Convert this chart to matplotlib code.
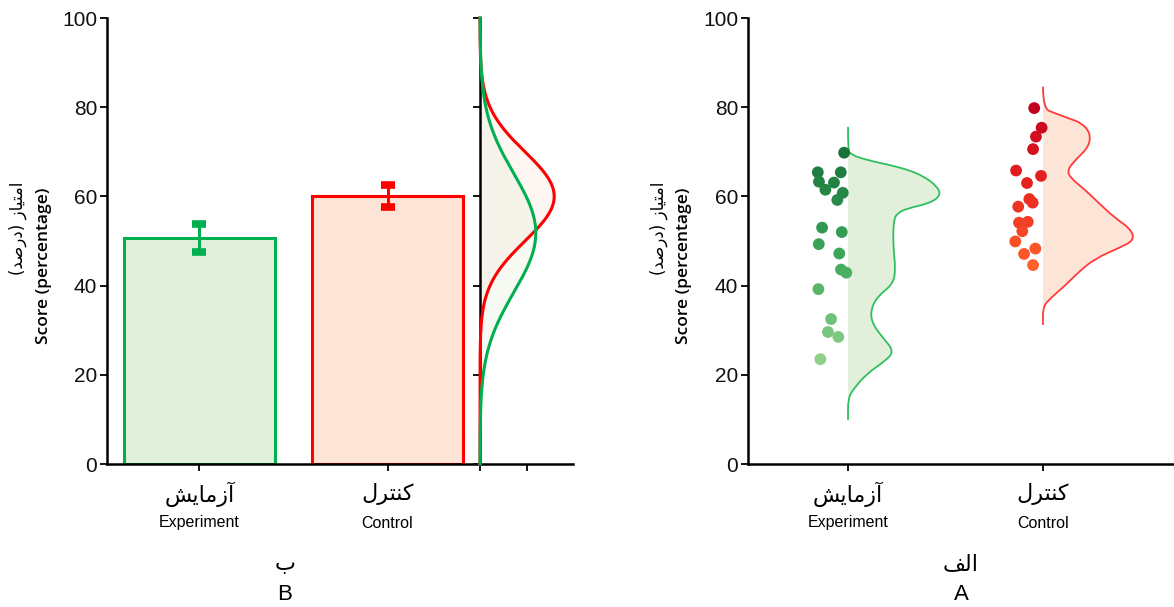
import numpy as np
import matplotlib.pyplot as plt
from matplotlib.colors import LinearSegmentedColormap, Normalize
from matplotlib.transforms import blended_transform_factory
from matplotlib.path import Path
from matplotlib.patches import PathPatch

plt.rcParams['font.family'] = ['Liberation Sans', 'DejaVu Sans']

# ---- data ----
# Persian strings are given in display order with Arabic presentation forms
groups_fa = ['\uFEB6\uFBFE\uFE8E\uFEE3\uFEAF\uFE81',   # Azmayesh
             '\uFEDD\uFEAE\uFE98\uFEE8\uFB90']         # Kontrol
groups_en = ['Experiment', 'Control']
ylabel_fa = '(\uFEAA\uFEBB\uFEAD\uFEA9) \uFEAF\uFE8E\uFBFF\uFE98\uFEE3\uFE8D'
ylabel_en = 'Score (percentage)'
panel_fa = ['\uFE8F', '\uFED2\uFEDF\uFE8D']
panel_en = ['B', 'A']

# panel B: mean +/- error, and the normal curves beside it
bar_means = [50.6, 60.1]
bar_err = [3.1, 2.5]
norm_mean = [51.8, 60.0]
norm_sd = [13.3, 10.0]

# panel A: individual scores and their horizontal jitter (category units)
exp_scores = [69.8, 65.4, 65.4, 63.3, 63.1, 61.5, 60.8, 59.2, 53.0, 52.0,
              49.3, 47.2, 43.6, 42.9, 39.2, 32.5, 29.6, 28.5, 23.5]
exp_jitter = [-0.020, -0.155, -0.037, -0.149, -0.072, -0.116, -0.027, -0.055, -0.133, -0.032,
              -0.150, -0.045, -0.036, -0.009, -0.152, -0.087, -0.103, -0.050, -0.142]
ctrl_scores = [79.8, 75.4, 73.4, 70.6, 65.8, 64.6, 63.0, 59.4, 58.6, 57.7,
               54.1, 54.3, 52.2, 49.9, 48.3, 47.1, 44.6]
ctrl_jitter = [-0.045, -0.007, -0.036, -0.051, -0.138, -0.010, -0.082, -0.070, -0.053, -0.127,
               -0.123, -0.078, -0.106, -0.142, -0.039, -0.097, -0.051]

# half-violin outlines (score, density in arbitrary units)
exp_violin_y = [75.6, 70.0, 69.7, 68.9, 67.8, 67.0, 65.9, 64.5, 62.3, 60.3, 58.5, 57.3,
                56.2, 54.7, 51.0, 47.5, 44.2, 40.5, 37.5, 34.5, 31.5, 28.5, 25.2, 22.9,
                20.3, 17.0, 14.7, 9.9]
exp_violin_w = [0, 0, 2.7, 7.7, 26, 42.7, 61, 76, 89.3, 93.3, 82.7, 59.3,
                49.3, 46, 45.3, 46, 47.5, 46, 29.3, 22.7, 24.3, 34.3, 46.7, 36,
                19.3, 6, 0, 0]
ctrl_violin_y = [84.6, 79.7, 78.6, 77.5, 76.4, 74.1, 71.1, 68.2, 65.9, 64.1, 61.4, 58.5,
                 55.1, 52.8, 50.2, 48.4, 46.1, 43.1, 40.1, 37.2, 35.3, 31.2]
ctrl_violin_w = [0, 0, 12.7, 26, 39.3, 47.7, 46, 32.7, 24.3, 27.7, 42.7, 56,
                 72.7, 87.7, 92, 76, 52.7, 36, 22.7, 7.7, 0, 0]

fills = ['#e2efda', '#fce4d6']
edges = ['#00b050', '#ff0000']
violin_lines = ['#2fbf5f', '#ff3b3b']
cmaps = [LinearSegmentedColormap.from_list('g', ['#8fd18b', '#3ea85a', '#17733a']),
         LinearSegmentedColormap.from_list('r', ['#ff602c', '#e8231f', '#c4001f'])]

W, H = 1174, 607
fig = plt.figure(figsize=(W / 100, H / 100), dpi=100)


def fx(px):
    return px / W


def fy(px):
    return 1 - px / H


def smooth_path(xs, ys, base=None):
    # quadratic bezier through the midpoints, read points act as control points
    verts = [(xs[0], ys[0])]
    codes = [Path.MOVETO]
    for k in range(1, len(xs) - 1):
        verts += [(xs[k], ys[k]), ((xs[k] + xs[k + 1]) / 2, (ys[k] + ys[k + 1]) / 2)]
        codes += [Path.CURVE3, Path.CURVE3]
    verts.append((xs[-1], ys[-1]))
    codes.append(Path.LINETO)
    if base is not None:
        verts += [(base, ys[-1]), (base, ys[0]), (xs[0], ys[0])]
        codes += [Path.LINETO, Path.LINETO, Path.CLOSEPOLY]
    return Path(verts, codes)


bottom, height = fy(464), 446 / H
ax_bar = fig.add_axes([fx(107), bottom, fx(373), height])
ax_den = fig.add_axes([fx(480), bottom, fx(93), height])
ax_r = fig.add_axes([fx(748), bottom, fx(W - 748), height])

for ax in (ax_bar, ax_den, ax_r):
    for s in ('top', 'right'):
        ax.spines[s].set_visible(False)
    for s in ('left', 'bottom'):
        ax.spines[s].set_linewidth(1.8)
    ax.tick_params(direction='out', length=5, width=1.4, labelsize=15, pad=2, colors='#111111')
    ax.set_ylim(0, 100)
    ax.set_yticks(range(0, 101, 20))

# ---- panel B ----
x = np.arange(2)
ax_bar.bar(x, bar_means, width=0.8, color=fills, edgecolor=edges, linewidth=2.2, zorder=2)
for i in x:
    ax_bar.errorbar(i, bar_means[i], yerr=bar_err[i], color=edges[i], elinewidth=2.2,
                    capsize=5, capthick=5.5, zorder=3)
ax_bar.set_xlim(-0.492, 1.492)
ax_bar.set_xticks(x)
ax_bar.set_xticklabels([])

yy = np.linspace(0, 100, 500)
for i in (1, 0):
    pdf = np.exp(-0.5 * ((yy - norm_mean[i]) / norm_sd[i]) ** 2) / (norm_sd[i] * np.sqrt(2 * np.pi))
    ax_den.fill_betweenx(yy, 0, pdf, color=fills[i], alpha=0.3, lw=0, zorder=1)
    ax_den.plot(pdf, yy, color=edges[i], lw=2.2, clip_on=False, zorder=3)
ax_den.set_xlim(0, 0.05)
ax_den.set_xticks([0, 0.025])
ax_den.set_xticklabels([])
ax_den.set_yticklabels([])

# ---- panel A ----
vscale = 0.475 / 93
groups = [(exp_scores, exp_jitter, exp_violin_y, exp_violin_w),
          (ctrl_scores, ctrl_jitter, ctrl_violin_y, ctrl_violin_w)]
for i, (scores, jit, vy, vw) in enumerate(groups):
    xs = i + np.array(vw) * vscale
    ax_r.add_patch(PathPatch(smooth_path(xs, vy, base=i), facecolor=fills[i],
                             edgecolor='none', zorder=1))
    ax_r.add_patch(PathPatch(smooth_path(xs, vy), facecolor='none',
                             edgecolor=violin_lines[i], lw=1.3, zorder=2))
    ax_r.scatter(i + np.array(jit), scores, c=scores, cmap=cmaps[i],
                 norm=Normalize(min(scores), max(scores)), s=72, edgecolors='none', zorder=3)
ax_r.set_xlim(-0.513, 1.672)
ax_r.set_xticks(x)
ax_r.set_xticklabels([])

# ---- texts ----
for ax in (ax_bar, ax_r):
    tr = blended_transform_factory(ax.transData, fig.transFigure)
    for i in range(2):
        ax.text(i, fy(494), groups_fa[i], transform=tr, ha='center', va='center',
                fontsize=16, family='DejaVu Sans')
        ax.text(i, fy(523), groups_en[i], transform=tr, ha='center', va='center',
                fontsize=11.5)

for xp, xe in ((18, 44), (659, 684)):
    fig.text(fx(xp), fy(182), ylabel_fa, rotation=90, ha='center', va='top',
             fontsize=12, family='DejaVu Sans')
    fig.text(fx(xe), fy(188), ylabel_en, rotation=90, ha='center', va='top',
             fontsize=12.5, family='Open Sans', weight='semibold')

for xc, fa, en in ((285, panel_fa[0], panel_en[0]), (961, panel_fa[1], panel_en[1])):
    fig.text(fx(xc), fy(564), fa, ha='center', va='center', fontsize=16, family='DejaVu Sans')
    fig.text(fx(xc), fy(595), en, ha='center', va='center', fontsize=16)

fig.savefig('out.png', dpi=100)
